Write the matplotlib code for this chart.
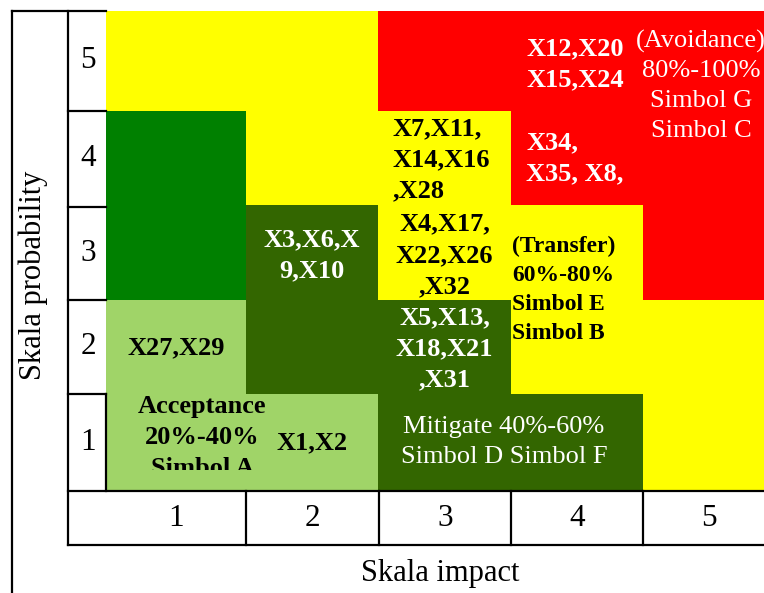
import numpy as np
import matplotlib.pyplot as plt
from matplotlib.colors import ListedColormap
from matplotlib.transforms import Bbox, TransformedBbox

plt.rcParams["font.family"] = ["Liberation Serif", "DejaVu Serif"]

# ── data ────────────────────────────────────────────────────────────────────
IMPACT = [1, 2, 3, 4, 5]
PROBABILITY = [1, 2, 3, 4, 5]

# zone per cell, rows = probability 1..5, cols = impact 1..5
# 0 acceptance, 1 low (green), 2 mitigate, 3 transfer, 4 avoidance
ZONES = [
    [0, 0, 2, 2, 3],   # p=1
    [0, 2, 2, 3, 3],   # p=2
    [1, 2, 3, 3, 4],   # p=3
    [1, 3, 3, 4, 4],   # p=4
    [3, 3, 4, 4, 4],   # p=5
]
ZONE_COLORS = ["#a0d468", "#008000", "#336600", "#ffff00", "#ff0000"]

# labels: (impact, probability, text, colour, bold, align)
LABELS = [
    (3.99, 5.00, "X12,X20\nX15,X24", "white", True, "center"),
    (4.94, 4.77, "(Avoidance)\n80%-100%\nSimbol G\nSimbol C", "white", False, "center"),
    (3.62, 4.00, "X34,\nX35, X8,", "white", True, "left"),
    (2.61, 3.98, "X7,X11,\nX14,X16\n,X28", "black", True, "left"),
    (3.00, 2.97, "X4,X17,\nX22,X26\n,X32", "black", True, "center"),
    (2.00, 2.97, "X3,X6,X\n9,X10", "white", True, "center"),
    (0.97, 1.99, "X27,X29", "black", True, "center"),
    (2.00, 0.98, "X1,X2", "black", True, "center"),
    (3.00, 1.98, "X5,X13,\nX18,X21\n,X31", "white", True, "center"),
    (3.45, 0.99, "Mitigate 40%-60%\nSimbol D Simbol F", "white", False, "center"),
]
TRANSFER_TEXT = "(Transfer)\n60%-80%\nSimbol E\nSimbol B"
ACCEPT_TEXT = "Acceptance\n20%-40%\nSimbol A"

# ── layout (pixels of the 764x593 canvas) ──────────────────────────────────
W, H = 764, 593
COL_PX = [106, 246, 379, 511, 643, 775]
ROW_PX = [491, 394, 300, 207, 111, 11]   # bottom of p=1 ... top of p=5
LW = 1.6

fig = plt.figure(figsize=(W / 100, H / 100), dpi=100)

ax = fig.add_axes([106 / W, (H - 491) / H, (W - 106) / W, 480 / H], zorder=1)
ax.set_xlim(0.442, 5.415)
ax.set_ylim(0.471, 5.561)
ax.axis("off")

edges = [0.4, 1.5, 2.5, 3.5, 4.5, 5.6]
ax.pcolormesh(edges, edges, np.array(ZONES), cmap=ListedColormap(ZONE_COLORS),
              vmin=-0.5, vmax=4.5)

for x, y, txt, col, bold, ha in LABELS:
    ax.text(x, y, txt, color=col, ha=ha, va="center", multialignment=ha,
            fontsize=19, fontweight="bold" if bold else "normal", linespacing=1.45)

ax.text(3.51, 2.60, TRANSFER_TEXT, color="black", ha="left", va="center",
        fontsize=17, fontweight="bold", linespacing=1.5)

# bottom line of the acceptance label is cut off in the original
t = ax.text(1.17, 1.04, ACCEPT_TEXT, color="black", ha="center", va="center",
            fontsize=19, fontweight="bold", linespacing=1.45)
t.set_clip_box(TransformedBbox(Bbox([[0.4, 0.694], [3.4, 3.7]]), ax.transData))
t.set_clip_on(True)

# ── table frame ────────────────────────────────────────────────────────────
fr = fig.add_axes([0, 0, 1, 1], zorder=2)
fr.set_xlim(0, W)
fr.set_ylim(H, 0)
fr.patch.set_alpha(0)
fr.axis("off")

kw = dict(color="black", lw=LW, solid_capstyle="projecting")
fr.plot([12, 12], [11, H], **kw)
fr.plot([12, 106], [11, 11], **kw)
fr.plot([68, 68], [11, 545], **kw)
for yy in ROW_PX[1:-1]:
    fr.plot([68, 106], [yy, yy], **kw)
fr.plot([106, 106], [ROW_PX[1], ROW_PX[0]], **kw)
fr.plot([68, W], [491, 491], **kw)
fr.plot([68, W], [545, 545], **kw)
for xx in COL_PX[1:-1]:
    fr.plot([xx, xx], [491, 545], **kw)

for i, p in enumerate(PROBABILITY):
    fr.text(88, (ROW_PX[i] + ROW_PX[i + 1]) / 2, str(p), ha="center", va="center",
            fontsize=22.5)
for i, imp in enumerate(IMPACT):
    fr.text((COL_PX[i] + COL_PX[i + 1]) / 2, 519, str(imp), ha="center", va="center",
            fontsize=22.5)

fr.text(33, 275, "Skala probability", rotation=90, ha="center", va="center", fontsize=22)
fr.text(440, 573, "Skala impact", ha="center", va="center", fontsize=22)

fig.savefig("out.png", dpi=100)
